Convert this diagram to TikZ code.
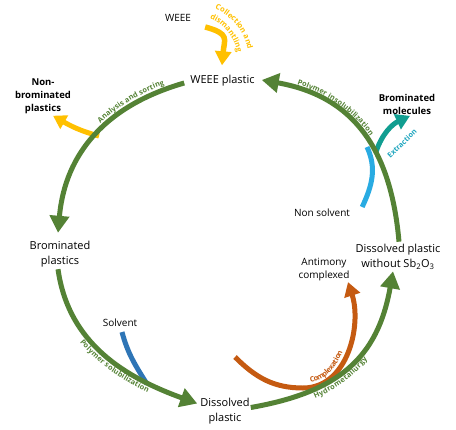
\documentclass[tikz,border=0pt]{standalone}
\usepackage{fontspec}
\setmainfont{Open Sans}
\usetikzlibrary{arrows.meta,decorations.text}
\definecolor{grn}{RGB}{84,130,53}
\definecolor{ylw}{RGB}{255,192,0}
\definecolor{cyn}{RGB}{41,171,226}
\definecolor{tea}{RGB}{17,158,145}
\definecolor{ora}{RGB}{197,90,17}
\definecolor{blu}{RGB}{46,117,182}
\definecolor{extc}{RGB}{30,165,190}
\newcommand\lblfont{\fontsize{7.3bp}{8bp}\selectfont\bfseries}
\newcommand\colfont{\fontsize{7.6bp}{8bp}\selectfont\bfseries}
\begin{document}
\begin{tikzpicture}[x=1bp,y=1bp,
  lab/.style={inner sep=1bp, align=center, font=\fontsize{11bp}{15bp}\selectfont},
  sub/.style={inner sep=1bp, align=center, font=\fontsize{10bp}{13bp}\selectfont},
  boldlab/.style={inner sep=1bp, align=center, font=\fontsize{9.5bp}{13bp}\selectfont\bfseries},
  garc/.style={draw=grn, line width=5bp, -{Triangle[length=17bp,width=19bp]}},
  side/.style={line width=5bp, -{Triangle[length=14bp,width=16bp]}},
  alongtext/.style={decorate, decoration={text along path, text color=#1}},
]
\useasboundingbox (0,0) rectangle (456,429);
% main nodes
\node[lab] (wp) at (222.5,348) {WEEE plastic};
\node[lab] (bp) at (60,175) {Brominated\\plastics};
\node[lab] (dp) at (225,17.5) {Dissolved\\plastic};
\node[lab] (dw) at (398,172.5) {Dissolved plastic\\without Sb\textsubscript{2}O\textsubscript{3}};
% secondary nodes
\node[sub] (weee) at (178,411) {WEEE};
\node[boldlab] (nb) at (43,333) {Non-\\brominated\\plastics};
\node[boldlab] (bm) at (407,324.5) {Brominated\\molecules};
\node[sub] (ns) at (322,216) {Non solvent};
\node[sub] (sv) at (120,106) {Solvent};
\node[sub] (ac) at (324,159.5) {Antimony\\complexed};
% arc end points
\coordinate (a1s) at ([xshift=-5bp,yshift=-2bp]wp.west);
\coordinate (a1e) at ([xshift=-2bp,yshift=7bp]bp.north);
\coordinate (a2s) at ([xshift=-2bp,yshift=-1bp]bp.south);
\coordinate (a2e) at ([xshift=-2bp,yshift=8bp]dp.west);
\coordinate (a3s) at ([xshift=0bp,yshift=4bp]dp.east);
\coordinate (a3e) at ([xshift=-5bp,yshift=-1bp]dw.south);
\coordinate (a4s) at ([xshift=1bp,yshift=1bp]dw.north);
\coordinate (a4e) at ([xshift=6bp,yshift=1bp]wp.east);
% free ends
\coordinate (y2s) at (99,293);
\coordinate (cyt) at (367,282);
\coordinate (tes) at (376,277);
\coordinate (ors) at (235,72);
\coordinate (orb) at (303,41);
% side arrows
\draw[side, draw=ylw, line width=5.5bp] ([xshift=13bp,yshift=-9bp]weee.east) to[out=-15,in=85,looseness=1.6] ([xshift=-0.5bp,yshift=9bp]wp.north);
\draw[side, draw=ylw, -{Triangle[length=13bp,width=15bp]}] (y2s) to[out=165,in=330] ([xshift=10bp,yshift=-1bp]nb.south);
\draw[draw=cyn, line width=5bp] ([xshift=11bp,yshift=6bp]ns.east) to[out=65,in=295] (cyt);
\draw[side, draw=tea] (tes) to[out=72,in=205] ([xshift=3bp]bm.south);
\draw[draw=blu, line width=5bp] ([xshift=2bp,yshift=-4bp]sv.south) to[out=285,in=122] ++(25,-52);
\draw[side, draw=ora] (ors) to[out=-45,in=180] (orb) to[out=0,in=288] ([xshift=24bp,yshift=0bp]ac.south);
% green cycle
\draw[garc] (a1s) to[out=196,in=85,looseness=1.05] (a1e);
\draw[garc] (a2s) to[out=278,in=160] (a2e);
\draw[garc] (a3s) to[out=10,in=260,looseness=1.15] (a3e);
\draw[garc] (a4s) to[out=95,in=350,looseness=1.12] (a4e);
% labels along arcs
\path[alongtext=grn, decoration={raise=4.5bp, text align={left indent=118bp}, text={|\lblfont|Analysis and sorting}}]
  (a1e) to[out=85,in=196,looseness=1.05] (a1s);
\path[alongtext=grn, decoration={raise=4.5bp, text align={left indent=35bp}, text={|\lblfont|Polymer insolubilization}}]
  (a4e) to[out=350,in=95,looseness=1.12] (a4s);
\path[alongtext=grn, decoration={raise=-9bp, text align={left indent=74bp}, text={|\lblfont|Polymer solubilization}}]
  (a2s) to[out=278,in=160] (a2e);
\path[alongtext=grn, decoration={raise=-9bp, text align={left indent=63bp}, text={|\lblfont|Hydrometallurgy}}]
  (a3s) to[out=10,in=260,looseness=1.15] (a3e);
\path[alongtext=ora, decoration={raise=4.5bp, text align={left indent=86bp}, text={|\lblfont|Complexation}}]
  (ors) to[out=-45,in=180] (orb) to[out=0,in=288] ([xshift=24bp,yshift=0bp]ac.south);
\coordinate (q) at (192,368);
\path[alongtext=ylw, decoration={text align=center, text={|\colfont|Collection and}}]
  ([shift={(72:57)}]q) arc[start angle=72,end angle=6,radius=57];
\path[alongtext=ylw, decoration={text align=center, text={|\colfont|dismantling}}]
  ([shift={(72:46)}]q) arc[start angle=72,end angle=6,radius=46];
\node[rotate=44, text=extc, font=\lblfont, inner sep=0pt] (ex) at (402,285.5) {Extraction};
\end{tikzpicture}
\end{document}
